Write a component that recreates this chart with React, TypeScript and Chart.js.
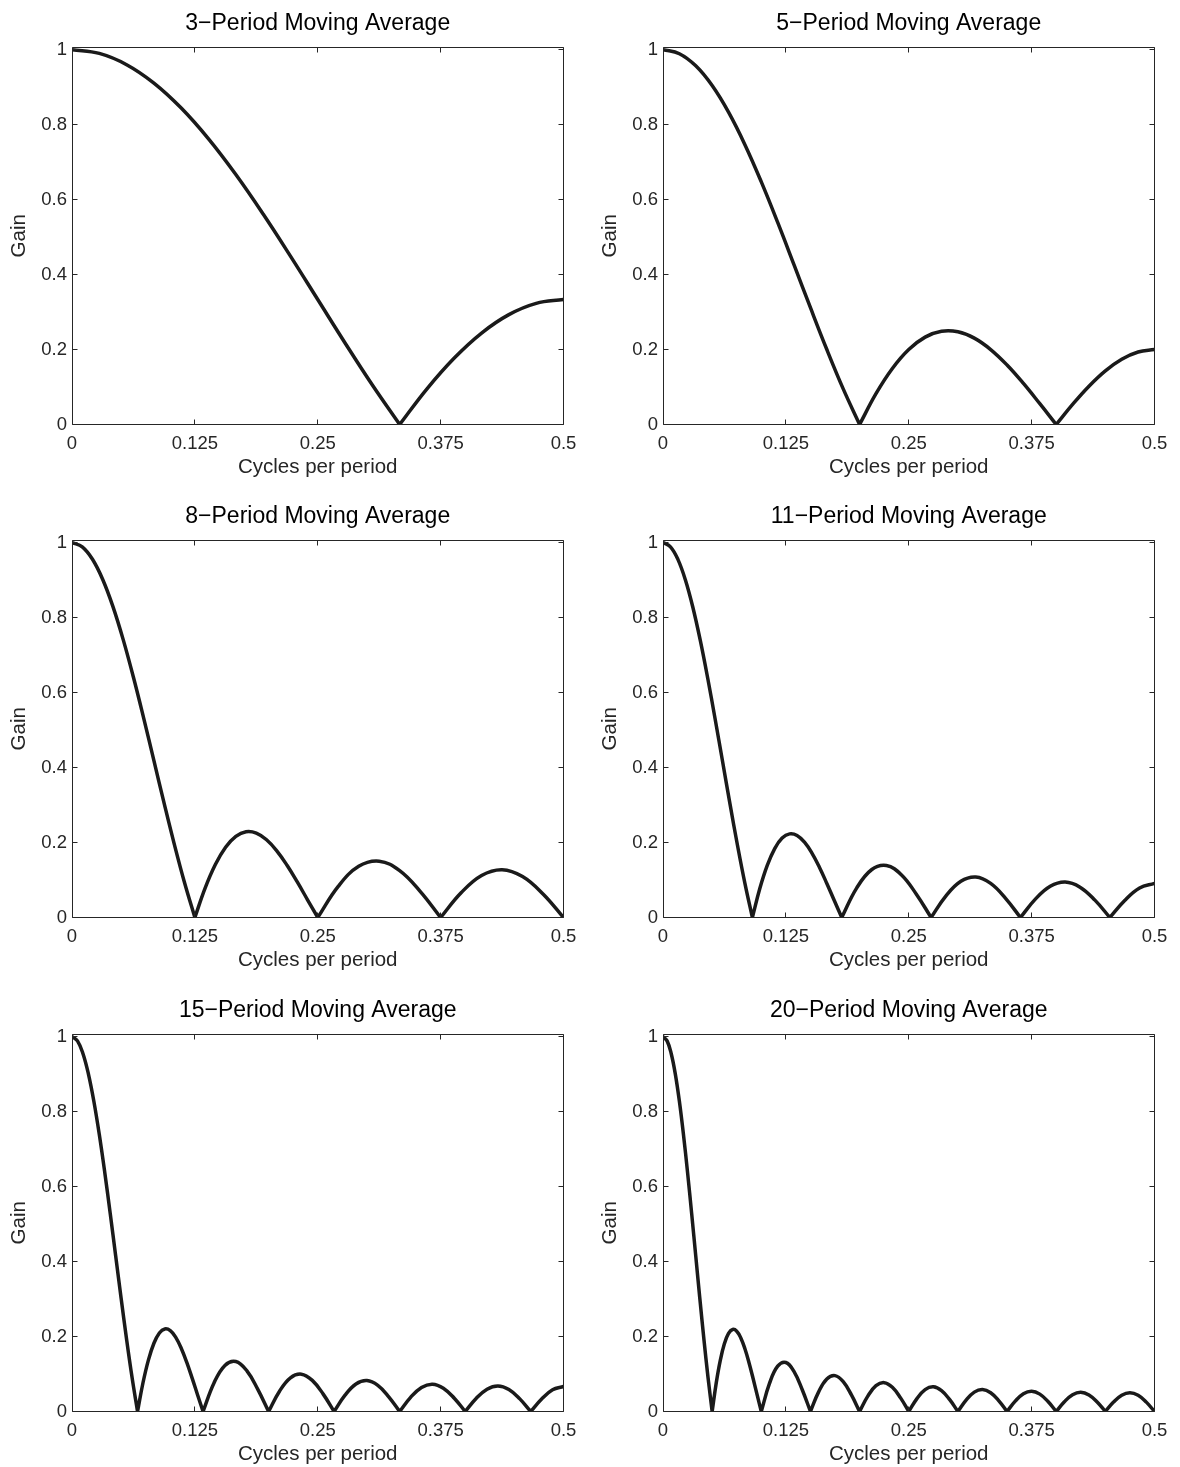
import React, { useEffect, useRef } from "react";
import { Chart, registerables } from "chart.js";

Chart.register(...registerables);

// ---------- data ----------
const TITLES = [
  "3\u2212Period Moving Average",
  "5\u2212Period Moving Average",
  "8\u2212Period Moving Average",
  "11\u2212Period Moving Average",
  "15\u2212Period Moving Average",
  "20\u2212Period Moving Average",
];

const X_TICKS = [0, 0.125, 0.25, 0.375, 0.5];
const X_TICK_LABELS = ["0", "0.125", "0.25", "0.375", "0.5"];
const Y_TICKS = [0, 0.2, 0.4, 0.6, 0.8, 1];
const Y_TICK_LABELS = ["0", "0.2", "0.4", "0.6", "0.8", "1"];
const X_LABEL = "Cycles per period";
const Y_LABEL = "Gain";

const FREQ_3 = [0, 0.027778, 0.055556, 0.083333, 0.111111, 0.138889, 0.166667, 0.194444, 0.222222, 0.25, 0.277778, 0.305556, 0.333333,
  0.361111, 0.388889, 0.416667, 0.444444, 0.472222, 0.5];
const GAIN_3 = [1, 0.98987, 0.9598, 0.91068, 0.84403, 0.76186, 0.66667, 0.56135, 0.4491, 0.33333, 0.21757, 0.10532, 0,
  0.09519, 0.17737, 0.24402, 0.29313, 0.3232, 0.33333];

const FREQ_5 = [0, 0.016667, 0.033333, 0.05, 0.066667, 0.083333, 0.1, 0.116667, 0.133333, 0.15, 0.166667, 0.183333, 0.2,
  0.216667, 0.233333, 0.25, 0.266667, 0.283333, 0.3, 0.316667, 0.333333, 0.35, 0.366667, 0.383333, 0.4,
  0.416667, 0.433333, 0.45, 0.466667, 0.483333, 0.5];
const GAIN_5 = [1, 0.98907, 0.95668, 0.90403, 0.83307, 0.74641, 0.64721, 0.53907, 0.42584, 0.31151, 0.2, 0.09504, 0,
  0.08225, 0.14945, 0.2, 0.23307, 0.24858, 0.24721, 0.23035, 0.2, 0.15872, 0.10946, 0.05545, 0,
  0.05359, 0.10223, 0.14318, 0.17416, 0.19345, 0.2];

const FREQ_8 = [0, 0.010417, 0.020833, 0.03125, 0.041667, 0.052083, 0.0625, 0.072917, 0.083333, 0.09375, 0.104167, 0.114583, 0.125,
  0.135417, 0.145833, 0.15625, 0.166667, 0.177083, 0.1875, 0.197917, 0.208333, 0.21875, 0.229167, 0.239583, 0.25,
  0.270833, 0.291667, 0.3125, 0.333333, 0.354167, 0.375,
  0.395833, 0.416667, 0.4375, 0.458333, 0.479167, 0.5];
const GAIN_8 = [1, 0.98879, 0.95561, 0.90177, 0.82936, 0.74122, 0.64073, 0.53172, 0.41826, 0.30449, 0.19444, 0.09184, 0,
  0.07839, 0.14131, 0.1875, 0.21651, 0.22865, 0.22499, 0.20729, 0.17783, 0.13933, 0.09479, 0.04733, 0,
  0.08313, 0.13645, 0.15034, 0.125, 0.06969, 0,
  0.066, 0.11207, 0.12745, 0.10919, 0.06263, 0];

const FREQ_11 = [0, 0.007576, 0.015152, 0.022727, 0.030303, 0.037879, 0.045455, 0.05303, 0.060606, 0.068182, 0.075758, 0.083333, 0.090909,
  0.098485, 0.106061, 0.113636, 0.121212, 0.128788, 0.136364, 0.143939, 0.151515, 0.159091, 0.166667, 0.174242, 0.181818,
  0.19697, 0.212121, 0.227273, 0.242424, 0.257576, 0.272727,
  0.287879, 0.30303, 0.318182, 0.333333, 0.348485, 0.363636,
  0.378788, 0.393939, 0.409091, 0.424242, 0.439394, 0.454545,
  0.469697, 0.484848, 0.5];
const GAIN_11 = [1, 0.98871, 0.95529, 0.90108, 0.82824, 0.73966, 0.63879, 0.52952, 0.41601, 0.30241, 0.1928, 0.09091, 0,
  0.07727, 0.13898, 0.18395, 0.21183, 0.22307, 0.21884, 0.20097, 0.17181, 0.13413, 0.09091, 0.04521, 0,
  0.07836, 0.12736, 0.13882, 0.11409, 0.06281, 0,
  0.05783, 0.09665, 0.10806, 0.09091, 0.05114, 0,
  0.04896, 0.08331, 0.09475, 0.08101, 0.04629, 0,
  0.04566, 0.07882, 0.09091];

const FREQ_15 = [0, 0.005556, 0.011111, 0.016667, 0.022222, 0.027778, 0.033333, 0.038889, 0.044444, 0.05, 0.055556, 0.061111, 0.066667,
  0.072222, 0.077778, 0.083333, 0.088889, 0.094444, 0.1, 0.105556, 0.111111, 0.116667, 0.122222, 0.127778, 0.133333,
  0.144444, 0.155556, 0.166667, 0.177778, 0.188889, 0.2,
  0.211111, 0.222222, 0.233333, 0.244444, 0.255556, 0.266667,
  0.277778, 0.288889, 0.3, 0.311111, 0.322222, 0.333333,
  0.344444, 0.355556, 0.366667, 0.377778, 0.388889, 0.4,
  0.411111, 0.422222, 0.433333, 0.444444, 0.455556, 0.466667,
  0.477778, 0.488889, 0.5];
const GAIN_15 = [1, 0.98867, 0.95513, 0.90073, 0.82767, 0.73885, 0.63778, 0.5284, 0.41485, 0.30134, 0.19196, 0.09043, 0,
  0.0767, 0.13779, 0.18214, 0.20946, 0.22025, 0.21574, 0.19779, 0.16881, 0.13154, 0.08898, 0.04416, 0,
  0.07604, 0.12298, 0.13333, 0.10895, 0.05961, 0,
  0.05414, 0.08982, 0.09963, 0.08311, 0.04634, 0,
  0.04351, 0.07327, 0.0824, 0.06964, 0.03931, 0,
  0.03775, 0.06424, 0.07298, 0.06227, 0.03547, 0,
  0.03468, 0.0595, 0.06816, 0.05863, 0.03366, 0,
  0.03341, 0.05777, 0.06667];

const FREQ_20 = [0, 0.004167, 0.008333, 0.0125, 0.016667, 0.020833, 0.025, 0.029167, 0.033333, 0.0375, 0.041667, 0.045833, 0.05,
  0.054167, 0.058333, 0.0625, 0.066667, 0.070833, 0.075, 0.079167, 0.083333, 0.0875, 0.091667, 0.095833, 0.1,
  0.108333, 0.116667, 0.125, 0.133333, 0.141667, 0.15,
  0.158333, 0.166667, 0.175, 0.183333, 0.191667, 0.2,
  0.208333, 0.216667, 0.225, 0.233333, 0.241667, 0.25,
  0.258333, 0.266667, 0.275, 0.283333, 0.291667, 0.3,
  0.308333, 0.316667, 0.325, 0.333333, 0.341667, 0.35,
  0.358333, 0.366667, 0.375, 0.383333, 0.391667, 0.4,
  0.408333, 0.416667, 0.425, 0.433333, 0.441667, 0.45,
  0.458333, 0.466667, 0.475, 0.483333, 0.491667, 0.5];
const GAIN_20 = [1, 0.98864, 0.95504, 0.90055, 0.82737, 0.73844, 0.63727, 0.52782, 0.41425, 0.3008, 0.19153, 0.09019, 0,
  0.07642, 0.13718, 0.18123, 0.20827, 0.21884, 0.21418, 0.1962, 0.1673, 0.13025, 0.08802, 0.04364, 0,
  0.07489, 0.12083, 0.13066, 0.10646, 0.05807, 0,
  0.05239, 0.0866, 0.09569, 0.0795, 0.04414, 0,
  0.04107, 0.06881, 0.07699, 0.06471, 0.03632, 0,
  0.03447, 0.05827, 0.06575, 0.05572, 0.03151, 0,
  0.03034, 0.05163, 0.05864, 0.05, 0.02845, 0,
  0.0277, 0.0474, 0.05412, 0.04638, 0.02652, 0,
  0.02607, 0.04483, 0.05142, 0.04427, 0.02543, 0,
  0.02522, 0.04354, 0.05015, 0.04336, 0.02501, 0];

const SERIES_FREQ = [FREQ_3, FREQ_5, FREQ_8, FREQ_11, FREQ_15, FREQ_20];
const SERIES_GAIN = [GAIN_3, GAIN_5, GAIN_8, GAIN_11, GAIN_15, GAIN_20];

// ---------- styling / layout ----------
const FONT = "'Liberation Sans', Arial, Helvetica, sans-serif";
const AXIS_COLOR = "#262626";
const LINE_COLOR = "#1a1a1a";
const CANVAS_H = 480;
const COL_X = [0, 591];
const COL_W = [590, 589];
const ROW_Y = [0, 493, 987];
const PLOT_TOP = 47;
const PLOT_BOTTOM = 424.5;
const PLOT_LEFT = 72;
const PAD_RIGHT = [26.5, 25.5];

// split the curve at interior zeros so each lobe keeps its sharp V
function buildPoints(freq: number[], gain: number[]) {
  const pts: { x: number; y: number | null }[] = [];
  for (let i = 0; i < freq.length; i++) {
    pts.push({ x: freq[i], y: gain[i] });
    if (gain[i] === 0 && i > 0 && i < freq.length - 1) {
      pts.push({ x: freq[i], y: null });
      pts.push({ x: freq[i], y: 0 });
    }
  }
  return pts;
}

const framePlugin = {
  id: "matlabFrame",
  afterDatasetsDraw(chart: any, _args: any, opts: any) {
    const { ctx, chartArea } = chart;
    const xs = chart.scales.x;
    const ys = chart.scales.y;
    const L = Math.floor(chartArea.left) + 0.5;
    const R = Math.floor(chartArea.right) + 0.5;
    const T = Math.floor(chartArea.top) + 0.5;
    const B = Math.floor(chartArea.bottom) + 0.5;
    const tl = 5;
    ctx.save();
    ctx.strokeStyle = AXIS_COLOR;
    ctx.lineWidth = 1;
    ctx.beginPath();
    ctx.rect(L, T, R - L, B - T);
    for (const v of X_TICKS) {
      const px = Math.floor(xs.getPixelForValue(v)) + 0.5;
      ctx.moveTo(px, B);
      ctx.lineTo(px, B - tl);
      ctx.moveTo(px, T);
      ctx.lineTo(px, T + tl);
    }
    for (const v of Y_TICKS) {
      const py = Math.floor(ys.getPixelForValue(v)) + 0.5;
      ctx.moveTo(L, py);
      ctx.lineTo(L + tl, py);
      ctx.moveTo(R, py);
      ctx.lineTo(R - tl, py);
    }
    ctx.stroke();

    // title
    ctx.fillStyle = "#000000";
    ctx.textAlign = "center";
    ctx.textBaseline = "alphabetic";
    ctx.font = `23px ${FONT}`;
    const cx = (chartArea.left + chartArea.right) / 2;
    ctx.fillText(opts.title, cx, chartArea.top - 17.5);

    // x label
    ctx.fillStyle = AXIS_COLOR;
    ctx.font = `20.5px ${FONT}`;
    ctx.fillText(X_LABEL, cx, chartArea.bottom + 48);

    // y label
    ctx.translate(25, (chartArea.top + chartArea.bottom) / 2);
    ctx.rotate(-Math.PI / 2);
    ctx.fillText(Y_LABEL, 0, 0);
    ctx.restore();
  },
};

function makeChart(canvas: HTMLCanvasElement, idx: number) {
  const col = idx % 2;
  const tickFont = { family: FONT, size: 18.5 };
  return new Chart(canvas, {
    type: "line",
    data: {
      datasets: [
        {
          data: buildPoints(SERIES_FREQ[idx], SERIES_GAIN[idx]) as any,
          borderColor: LINE_COLOR,
          borderWidth: 3.5,
          pointRadius: 0,
          pointHoverRadius: 0,
          fill: false,
          spanGaps: false,
          tension: 0.4,
          cubicInterpolationMode: "default",
          borderCapStyle: "round",
          borderJoinStyle: "round",
        } as any,
      ],
    },
    options: {
      responsive: false,
      animation: false,
      devicePixelRatio: 1,
      events: [],
      layout: { padding: { top: PLOT_TOP, right: PAD_RIGHT[col], left: 0, bottom: 0 } },
      plugins: {
        legend: { display: false },
        tooltip: { enabled: false },
        title: { display: false },
        matlabFrame: { title: TITLES[idx] },
      } as any,
      scales: {
        x: {
          type: "linear",
          min: 0,
          max: 0.5,
          afterBuildTicks: (s: any) => {
            s.ticks = X_TICKS.map((v) => ({ value: v }));
          },
          afterFit: (s: any) => {
            s.height = CANVAS_H - PLOT_BOTTOM;
          },
          grid: { display: false, drawTicks: false },
          border: { display: false },
          ticks: {
            autoSkip: false,
            maxRotation: 0,
            padding: 8,
            color: AXIS_COLOR,
            font: tickFont,
            callback: (_v: any, i: number) => X_TICK_LABELS[i],
          },
        },
        y: {
          type: "linear",
          min: 0,
          max: 1.007,
          afterBuildTicks: (s: any) => {
            s.ticks = Y_TICKS.map((v) => ({ value: v }));
          },
          afterFit: (s: any) => {
            s.width = PLOT_LEFT;
          },
          grid: { display: false, drawTicks: false },
          border: { display: false },
          ticks: {
            autoSkip: false,
            padding: 5,
            color: AXIS_COLOR,
            font: tickFont,
            callback: (_v: any, i: number) => Y_TICK_LABELS[i],
          },
        },
      },
    } as any,
    plugins: [framePlugin as any],
  });
}

export default function App() {
  const refs = useRef<(HTMLCanvasElement | null)[]>([]);

  useEffect(() => {
    const charts: Chart[] = [];
    refs.current.forEach((c, i) => {
      if (c) charts.push(makeChart(c, i));
    });
    return () => charts.forEach((ch) => ch.destroy());
  }, []);

  return (
    <div
      style={{
        position: "absolute",
        left: 0,
        top: 0,
        width: 1180,
        height: 1467,
        overflow: "hidden",
        background: "#ffffff",
      }}
    >
      {TITLES.map((_t, i) => {
        const col = i % 2;
        const row = Math.floor(i / 2);
        return (
          <canvas
            key={i}
            ref={(el) => {
              refs.current[i] = el;
            }}
            width={COL_W[col]}
            height={CANVAS_H}
            style={{
              position: "absolute",
              left: COL_X[col],
              top: ROW_Y[row],
              width: COL_W[col],
              height: CANVAS_H,
            }}
          />
        );
      })}
    </div>
  );
}
